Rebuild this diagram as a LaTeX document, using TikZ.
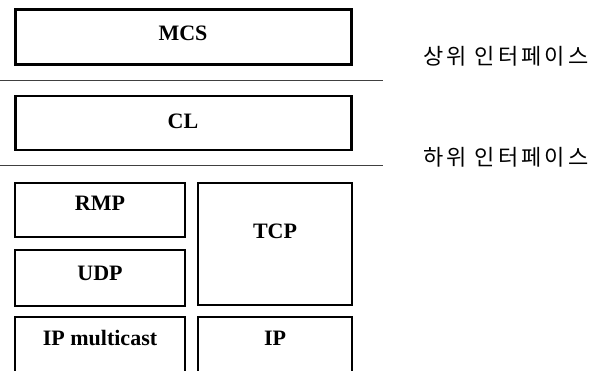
\documentclass[tikz,border=0pt]{standalone}
\usepackage{fontspec}
\setmainfont{Liberation Serif}
\newfontfamily\krfont[LetterSpace=14]{Noto Sans CJK KR}
\begin{document}
\begin{tikzpicture}[x=1pt,y=-1pt,
  layer/.style={draw, line width=2.6pt, rectangle, inner sep=0pt},
  lbl/.style={font=\fontsize{22}{24}\selectfont\bfseries, inner sep=0pt},
  sepline/.style={draw=black!75, line width=0.8pt},
  iface/.style={font=\krfont\fontsize{22}{24}\selectfont, anchor=west, inner sep=0pt}]
\useasboundingbox (0,0) rectangle (597,370);
% layer boxes
\node[layer, minimum width=336pt, minimum height=55pt] (mcs) at (183.5,37) {};
\node[layer, minimum width=336pt, minimum height=54pt] (cl) at (183.5,123) {};
\node[layer, minimum width=170pt, minimum height=54pt] (rmp) at (100,210) {};
\node[layer, minimum width=170pt, minimum height=56pt] (udp) at (100,278) {};
\node[layer, minimum width=154pt, minimum height=122pt] (tcp) at (275,244) {};
\node[layer, minimum width=170pt, minimum height=58pt] (ipm) at (100,346) {};
\node[layer, minimum width=154pt, minimum height=58pt] (ip) at (275,346) {};
% labels
\node[lbl] (tmcs) at (183,33) {MCS};
\node[lbl] (tcl) at (183,121) {CL};
\node[lbl] (trmp) at (100,203) {RMP};
\node[lbl] (tudp) at (100,273) {UDP};
\node[lbl] (ttcp) at (275,231) {TCP};
\node[lbl] (tipm) at (100,338) {IP multicast};
\node[lbl] (tip) at (275,338) {IP};
% interface separators
\coordinate (s1a) at (0,80);
\coordinate (s1b) at (383,80);
\coordinate (s2a) at (0,165);
\coordinate (s2b) at (383,165);
\draw[sepline] (s1a) -- (s1b);
\draw[sepline] (s2a) -- (s2b);
\node[iface] (upper) at (423,56) {상위 인터페이스};
\node[iface] (lower) at (423,157) {하위 인터페이스};
\end{tikzpicture}
\end{document}
